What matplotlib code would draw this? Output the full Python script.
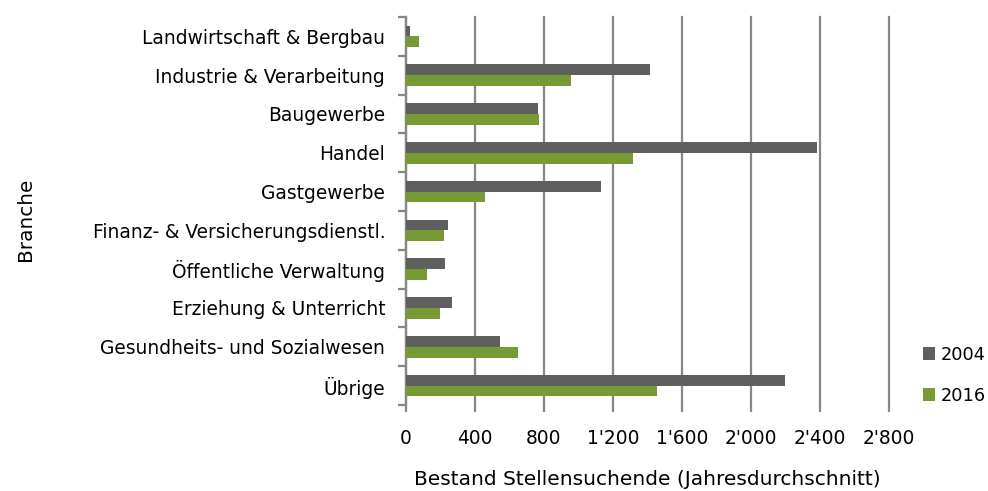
import numpy as np
import matplotlib.pyplot as plt
from matplotlib.ticker import FuncFormatter

# Data
branchen = ["Landwirtschaft & Bergbau", "Industrie & Verarbeitung", "Baugewerbe",
            "Handel", "Gastgewerbe", "Finanz- & Versicherungsdienstl.",
            "Öffentliche Verwaltung", "Erziehung & Unterricht",
            "Gesundheits- und Sozialwesen", "Übrige"]
werte_2004 = [21, 1417, 768, 2384, 1133, 245, 228, 269, 545, 2200]
werte_2016 = [77, 959, 772, 1319, 460, 222, 122, 195, 650, 1456]

grau = "#5f5f5f"
gruen = "#789a34"
linie = "#878787"

plt.rcParams["font.family"] = ["DejaVu Sans"]

fig = plt.figure(figsize=(9.88, 4.91), dpi=100)
ax = fig.add_axes([0.4109, 0.1752, 0.4886, 0.7902])

y = np.arange(len(branchen))
h = 0.28
b1 = ax.barh(y - h / 2, werte_2004, height=h, color=grau, label="2004", zorder=3)
b2 = ax.barh(y + h / 2, werte_2016, height=h, color=gruen, label="2016", zorder=3)

ax.set_xlim(0, 2800)
ax.set_ylim(len(branchen) - 0.5, -0.5)
ax.set_xticks(np.arange(0, 2801, 400))
ax.xaxis.set_major_formatter(FuncFormatter(lambda v, p: f"{int(v):,}".replace(",", "'")))
ax.grid(axis="x", color=linie, linewidth=1.6, zorder=0)
for g in ax.get_xgridlines():
    g.set_clip_on(False)

ax.set_yticks(y)
ax.set_yticklabels(branchen, fontsize=13.4)
ax.set_yticks(np.arange(-0.5, len(branchen)), minor=True)
ax.tick_params(axis="y", which="major", length=0, pad=15)
ax.tick_params(axis="y", which="minor", length=6, color=linie, width=1.6)
ax.tick_params(axis="x", length=5, color=linie, width=1.6, labelsize=13.4, pad=12)

for s in ["top", "right", "bottom"]:
    ax.spines[s].set_visible(False)
ax.spines["left"].set_color(linie)
ax.spines["left"].set_linewidth(1.6)

ax.set_xlabel("Bestand Stellensuchende (Jahresdurchschnitt)", fontsize=14.5, labelpad=16)
fig.text(0.026, 0.554, "Branche", rotation=90, fontsize=14.4, ha="center", va="center")

fig.legend(handles=[b1, b2], loc="center left", bbox_to_anchor=(0.934, 0.236),
           frameon=False, fontsize=12.8, handlelength=0.7, handleheight=0.7,
           handletextpad=0.3, labelspacing=1.3, borderpad=0, borderaxespad=0)

fig.savefig("out.png", dpi=100)
